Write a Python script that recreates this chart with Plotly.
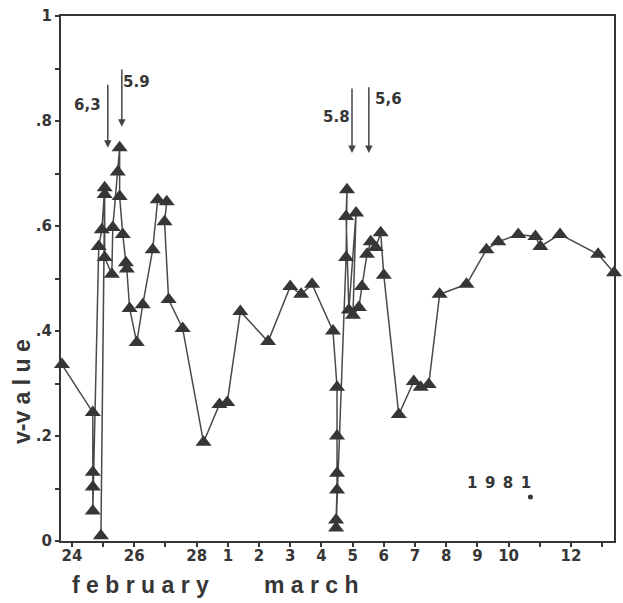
import plotly.graph_objects as go

# day index: 0 = Feb 24, 5 = Mar 1, 16 = Mar 12 (1981)
days = [-0.32, 0.67, 0.67, 0.67, 0.67, 0.86, 0.96, 1.05, 0.93, 1.05,
        1.05, 1.28, 1.31, 1.47, 1.53, 1.53, 1.63, 1.73, 1.76, 1.85,
        2.08, 2.27, 2.59, 2.75, 3.04, 2.97, 3.10, 3.55, 4.22, 4.73,
        4.98, 5.40, 6.29, 7.00, 7.35, 7.70, 8.37, 8.50, 8.50, 8.50,
        8.50, 8.47, 8.47, 8.79, 8.82, 8.79, 8.88, 9.11, 9.01, 9.20,
        9.30, 9.46, 9.58, 9.74, 9.90, 10.00, 10.48, 10.96, 11.18, 11.44,
        11.79, 12.65, 13.29, 13.67, 14.31, 14.86, 15.02, 15.65, 16.87, 17.38]
v_value = [0.336, 0.245, 0.131, 0.103, 0.057, 0.561, 0.593, 0.673, 0.010, 0.660,
           0.540, 0.508, 0.597, 0.703, 0.749, 0.656, 0.584, 0.530, 0.518, 0.443,
           0.378, 0.450, 0.555, 0.650, 0.646, 0.608, 0.460, 0.405, 0.188, 0.260,
           0.264, 0.437, 0.380, 0.485, 0.470, 0.489, 0.400, 0.293, 0.200, 0.129,
           0.097, 0.040, 0.025, 0.540, 0.669, 0.618, 0.440, 0.625, 0.430, 0.445,
           0.485, 0.546, 0.570, 0.559, 0.587, 0.506, 0.241, 0.304, 0.293, 0.298,
           0.470, 0.489, 0.555, 0.570, 0.584, 0.580, 0.561, 0.584, 0.546, 0.511]

x_tick_days = list(range(0, 18))
x_tick_labels = ["24", "", "26", "", "28", "1", "2", "3", "4", "5",
                 "6", "7", "8", "9", "10", "", "12", ""]
y_tick_vals = [0, 0.1, 0.2, 0.3, 0.4, 0.5, 0.6, 0.7, 0.8, 0.9, 1.0]
y_tick_labels = ["0", "", ".2", "", ".4", "", ".6", "", ".8", "", "1"]

# magnitude arrows: label, arrow day, arrow top, arrow tip, label day, label y
quake_labels = ["6,3", "5.9", "5.8", "5,6"]
quake_days = [1.15, 1.60, 8.98, 9.52]
quake_top = [0.872, 0.901, 0.865, 0.867]
quake_tip = [0.749, 0.789, 0.739, 0.739]
quake_label_days = [0.51, 2.08, 8.47, 10.16]
quake_label_v = [0.830, 0.874, 0.808, 0.842]

year_text = "1\u20029\u20028\u20021"
year_day, year_v = 13.7, 0.110
dot_day, dot_v = [14.70], [0.084]

ink = "#363636"
fig = go.Figure()
fig.add_trace(go.Scatter(
    x=days, y=v_value, mode="lines+markers",
    line=dict(color="#4a4a4a", width=1.5),
    marker=dict(symbol="triangle-up", size=14, color=ink),
    cliponaxis=False, showlegend=False))
fig.add_trace(go.Scatter(
    x=dot_day, y=dot_v, mode="markers",
    marker=dict(symbol="circle", size=5, color=ink),
    showlegend=False))

anns = []
for lab, xd, yt, yp, lx, ly in zip(quake_labels, quake_days, quake_top, quake_tip,
                                   quake_label_days, quake_label_v):
    anns.append(dict(x=xd, y=yp, ax=xd, ay=yt, xref="x", yref="y",
                     axref="x", ayref="y", text="", showarrow=True,
                     arrowhead=2, arrowsize=1, arrowwidth=1.5, arrowcolor="#444"))
    anns.append(dict(x=lx, y=ly, xref="x", yref="y", text=lab, showarrow=False,
                     font=dict(family="DejaVu Sans", size=15, color=ink, weight="bold")))
anns.append(dict(x=year_day, y=year_v, xref="x", yref="y", text=year_text,
                 showarrow=False,
                 font=dict(family="DejaVu Sans", size=15, color=ink, weight="bold")))
anns.append(dict(x=2.2, y=-0.084, xref="x", yref="paper", text="f e b r u a r y",
                 showarrow=False, yanchor="middle",
                 font=dict(family="Liberation Sans", size=23, color=ink, weight="bold")))
anns.append(dict(x=7.67, y=-0.084, xref="x", yref="paper", text="m a r c h",
                 showarrow=False, yanchor="middle",
                 font=dict(family="Liberation Sans", size=23, color=ink, weight="bold")))
anns.append(dict(x=-0.0703, y=0.284, xref="paper", yref="paper", text="v-v a l u e",
                 showarrow=False, textangle=-90, xanchor="center", yanchor="middle",
                 font=dict(family="Liberation Sans", size=23, color=ink, weight="bold")))

fig.update_layout(
    width=623, height=603,
    margin=dict(l=61, r=7, t=16, b=62),
    paper_bgcolor="white", plot_bgcolor="white",
    annotations=anns,
    xaxis=dict(range=[-0.35, 17.38], tickvals=x_tick_days, ticktext=x_tick_labels,
               ticks="outside", ticklen=4, tickwidth=1.5, tickcolor=ink,
               ticklabelstandoff=-4,
               showline=True, linewidth=2, linecolor=ink, mirror=True,
               showgrid=False, zeroline=False,
               tickfont=dict(family="DejaVu Sans", size=15, color=ink, weight="bold")),
    yaxis=dict(range=[0, 1], tickvals=y_tick_vals, ticktext=y_tick_labels,
               ticks="outside", ticklen=4, tickwidth=1.5, tickcolor=ink,
               showline=True, linewidth=2, linecolor=ink, mirror=True,
               showgrid=False, zeroline=False,
               tickfont=dict(family="DejaVu Sans", size=15, color=ink, weight="bold")),
)
fig.write_html("out.html")
